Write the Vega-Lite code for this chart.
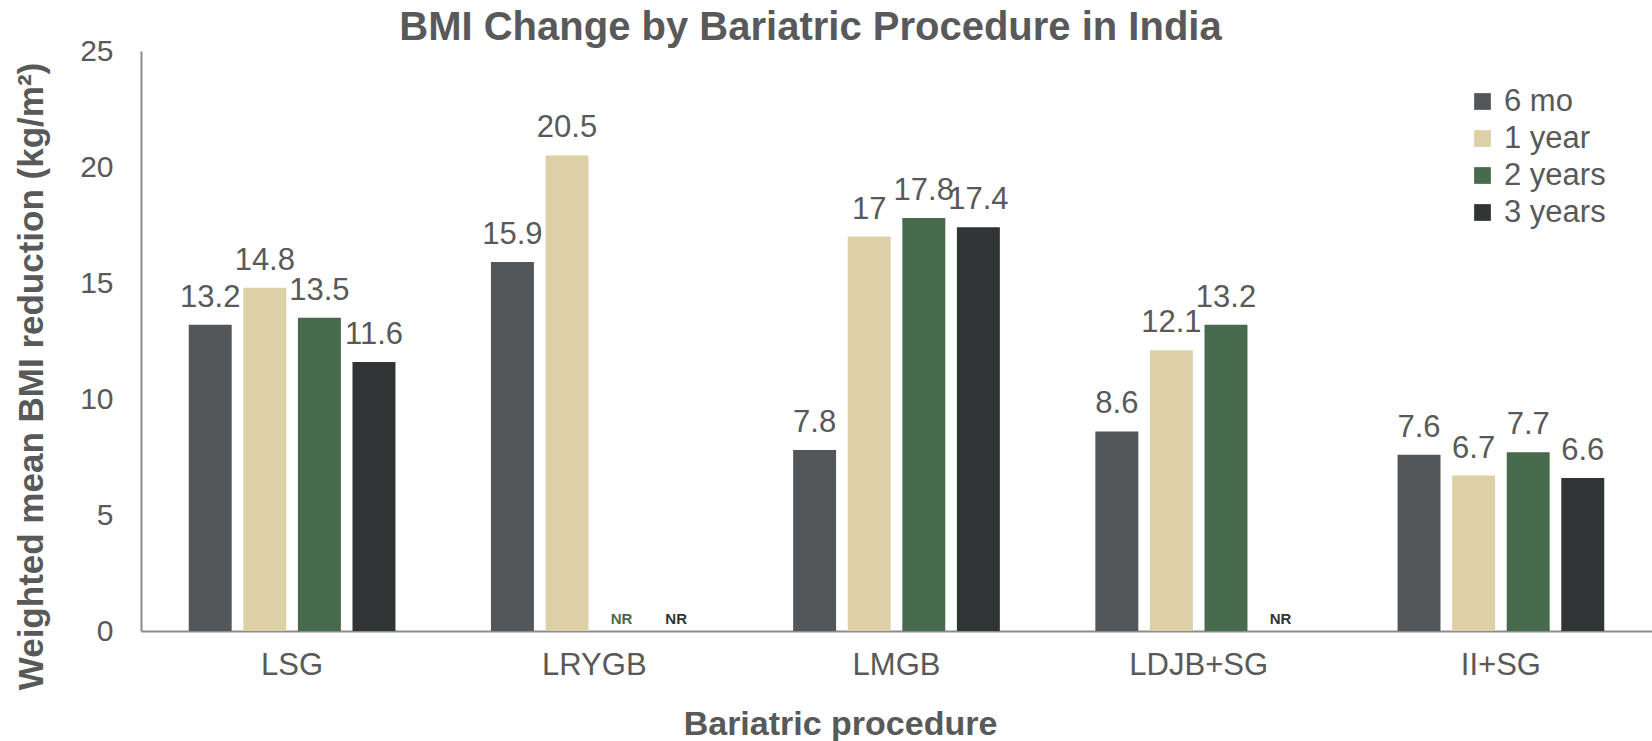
{
  "$schema": "https://vega.github.io/schema/vega-lite/v6.json",
  "width": 1511,
  "height": 580,
  "autosize": {"type": "none"},
  "padding": {"left": 141, "top": 51, "right": 0, "bottom": 110},
  "background": "white",
  "title": {
    "text": "BMI Change by Bariatric Procedure in India",
    "font": "Liberation Sans",
    "fontSize": 40,
    "fontWeight": "bold",
    "color": "#595959",
    "anchor": "middle",
    "frame": "group",
    "dx": -86,
    "dy": 14,
    "offset": 2
  },
  "config": {
    "view": {"stroke": null},
    "font": "Liberation Sans",
    "axis": {"grid": false, "ticks": false, "domainColor": "#8c8c8c", "domainWidth": 2, "labelColor": "#595959", "titleColor": "#595959", "labelFont": "Liberation Sans", "titleFont": "Liberation Sans"}
  },
  "data": {
    "values": [
      {"procedure": "LSG", "period": "6 mo", "value": 13.2},
      {"procedure": "LSG", "period": "1 year", "value": 14.8},
      {"procedure": "LSG", "period": "2 years", "value": 13.5},
      {"procedure": "LSG", "period": "3 years", "value": 11.6},
      {"procedure": "LRYGB", "period": "6 mo", "value": 15.9},
      {"procedure": "LRYGB", "period": "1 year", "value": 20.5},
      {"procedure": "LRYGB", "period": "2 years", "value": null, "note": "NR"},
      {"procedure": "LRYGB", "period": "3 years", "value": null, "note": "NR"},
      {"procedure": "LMGB", "period": "6 mo", "value": 7.8},
      {"procedure": "LMGB", "period": "1 year", "value": 17},
      {"procedure": "LMGB", "period": "2 years", "value": 17.8},
      {"procedure": "LMGB", "period": "3 years", "value": 17.4},
      {"procedure": "LDJB+SG", "period": "6 mo", "value": 8.6},
      {"procedure": "LDJB+SG", "period": "1 year", "value": 12.1},
      {"procedure": "LDJB+SG", "period": "2 years", "value": 13.2},
      {"procedure": "LDJB+SG", "period": "3 years", "value": null, "note": "NR"},
      {"procedure": "II+SG", "period": "6 mo", "value": 7.6},
      {"procedure": "II+SG", "period": "1 year", "value": 6.7},
      {"procedure": "II+SG", "period": "2 years", "value": 7.7},
      {"procedure": "II+SG", "period": "3 years", "value": 6.6}
    ]
  },
  "encoding": {
    "x": {
      "field": "procedure", "type": "nominal",
      "sort": ["LSG", "LRYGB", "LMGB", "LDJB+SG", "II+SG"],
      "scale": {"paddingInner": 0.316, "paddingOuter": 0.158},
      "axis": {
        "title": "Bariatric procedure",
        "labelAngle": 0,
        "labelFontSize": 31,
        "labelPadding": 19,
        "titleFontSize": 34,
        "titleFontWeight": "bold",
        "titleAnchor": "middle",
        "titleAlign": "center",
        "titleBaseline": "alphabetic",
        "titleX": 699,
        "titleY": 103
      }
    },
    "xOffset": {
      "field": "period", "type": "nominal",
      "sort": ["6 mo", "1 year", "2 years", "3 years"],
      "scale": {"domain": ["6 mo", "1 year", "2 years", "3 years"], "paddingInner": 0.213, "paddingOuter": 0}
    },
    "color": {
      "field": "period", "type": "nominal",
      "scale": {"domain": ["6 mo", "1 year", "2 years", "3 years"], "range": ["#53575A", "#DDD0A6", "#476B4C", "#313435"]}
    }
  },
  "layer": [
    {
      "mark": {"type": "bar"},
      "encoding": {
        "y": {
          "field": "value", "type": "quantitative",
          "scale": {"domain": [0, 25], "nice": false},
          "axis": {
            "values": [0, 5, 10, 15, 20, 25],
            "title": "Weighted mean BMI reduction (kg/m²)",
            "labelFontSize": 30,
            "labelPadding": 28,
            "titleFontSize": 35,
            "titleFontWeight": "bold",
            "titleAnchor": "middle",
            "titleBaseline": "alphabetic",
            "titleX": -99,
            "titleY": 325
          }
        },
        "color": {
          "field": "period", "type": "nominal",
          "legend": {
            "title": null,
            "orient": "none",
            "legendX": 1326,
            "legendY": 35,
            "symbolType": "square",
            "symbolSize": 280,
            "symbolStrokeWidth": 0,
            "labelFontSize": 31,
            "labelColor": "#595959",
            "labelFont": "Liberation Sans",
            "labelOffset": 6,
            "rowPadding": 5
          }
        }
      }
    },
    {
      "transform": [{"filter": "datum.value != null"}],
      "mark": {"type": "text", "baseline": "bottom", "dy": -11, "fontSize": 31, "color": "#595959"},
      "encoding": {
        "y": {"field": "value", "type": "quantitative"},
        "text": {"field": "value", "type": "quantitative"},
        "color": {"value": "#595959"}
      }
    },
    {
      "transform": [{"filter": "datum.note == 'NR'"}, {"calculate": "0", "as": "zero"}],
      "mark": {"type": "text", "baseline": "bottom", "dy": -4, "fontSize": 15, "fontWeight": "bold"},
      "encoding": {
        "y": {"field": "zero", "type": "quantitative"},
        "text": {"field": "note"},
        "color": {"field": "period", "type": "nominal", "legend": null}
      }
    }
  ]
}
